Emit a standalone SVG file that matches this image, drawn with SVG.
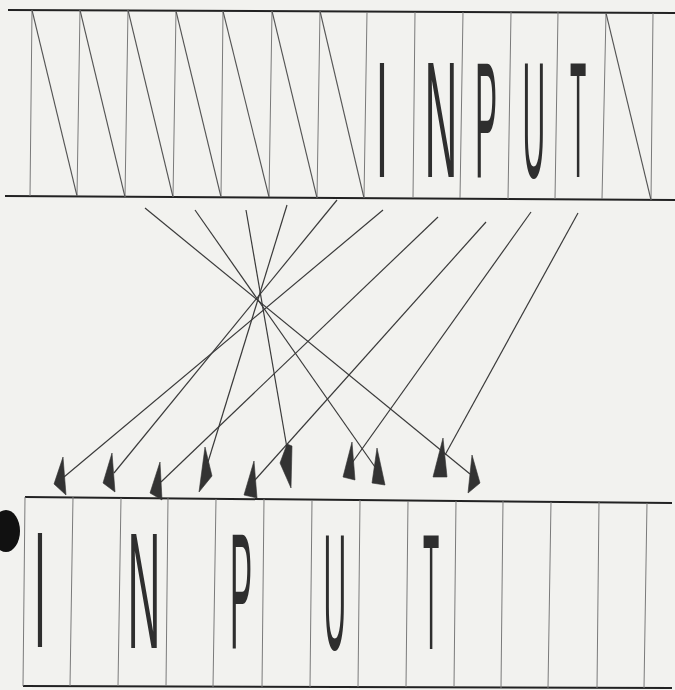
<svg xmlns="http://www.w3.org/2000/svg" width="675" height="690" viewBox="0 0 675 690">
<style>
.bg{fill:#f2f2ef}
.border{stroke:#222;stroke-width:2;fill:none}
.cell{stroke:#7a7a7a;stroke-width:1;fill:none}
.diag{stroke:#555;stroke-width:1.1;fill:none}
.letter{font-family:"Liberation Sans",Arial,sans-serif;font-size:166px;fill:#2e2e2e;text-anchor:middle}
.conn{stroke:#3a3a3a;stroke-width:1.2;fill:none}
.head{fill:#333;stroke:#333;stroke-width:0.6;stroke-linejoin:round}
</style>
<rect class="bg" x="0" y="0" width="675" height="690"/>

<g id="top-strip">
  <line class="border" x1="8" y1="10" x2="675" y2="13"/>
  <line class="border" x1="5" y1="196" x2="675" y2="200"/>
  <g class="cell">
    <line x1="32" y1="10" x2="30" y2="196"/>
    <line x1="80" y1="10" x2="77" y2="196"/>
    <line x1="128" y1="10" x2="125" y2="197"/>
    <line x1="176" y1="11" x2="173" y2="197"/>
    <line x1="223" y1="11" x2="221" y2="197"/>
    <line x1="272" y1="11" x2="269" y2="197"/>
    <line x1="320" y1="11" x2="317" y2="198"/>
    <line x1="367" y1="12" x2="364" y2="198"/>
    <line x1="415" y1="12" x2="413" y2="198"/>
    <line x1="463" y1="12" x2="460" y2="198"/>
    <line x1="511" y1="12" x2="508" y2="199"/>
    <line x1="558" y1="12" x2="555" y2="199"/>
    <line x1="606" y1="13" x2="602" y2="199"/>
    <line x1="653" y1="13" x2="651" y2="200"/>
  </g>
  <g class="diag">
    <line x1="32" y1="10" x2="77" y2="196"/>
    <line x1="80" y1="10" x2="125" y2="197"/>
    <line x1="128" y1="10" x2="173" y2="197"/>
    <line x1="176" y1="11" x2="221" y2="197"/>
    <line x1="223" y1="11" x2="269" y2="197"/>
    <line x1="272" y1="11" x2="317" y2="198"/>
    <line x1="320" y1="11" x2="364" y2="198"/>
    <line x1="606" y1="13" x2="651" y2="200"/>
  </g>
  <text class="letter" transform="translate(382,177) scale(0.27,1)">I</text>
  <text class="letter" transform="translate(441,177) scale(0.275,1)">N</text>
  <text class="letter" transform="translate(486,177) scale(0.2,1)">P</text>
  <text class="letter" transform="translate(534,177) scale(0.19,1)">U</text>
  <text class="letter" transform="translate(578,177) scale(0.16,1)">T</text>
</g>

<g id="bottom-strip">
  <line class="border" x1="25" y1="497" x2="672" y2="503"/>
  <line class="border" x1="23" y1="686" x2="672" y2="688"/>
  <g class="cell">
    <line x1="25" y1="497" x2="23" y2="686"/>
    <line x1="73" y1="497" x2="70" y2="686"/>
    <line x1="121" y1="498" x2="118" y2="686"/>
    <line x1="168" y1="498" x2="166" y2="686"/>
    <line x1="216" y1="499" x2="213" y2="687"/>
    <line x1="264" y1="499" x2="262" y2="687"/>
    <line x1="312" y1="500" x2="310" y2="687"/>
    <line x1="360" y1="500" x2="358" y2="687"/>
    <line x1="408" y1="501" x2="406" y2="687"/>
    <line x1="456" y1="501" x2="454" y2="687"/>
    <line x1="503" y1="501" x2="501" y2="688"/>
    <line x1="551" y1="502" x2="548" y2="688"/>
    <line x1="599" y1="502" x2="597" y2="688"/>
    <line x1="647" y1="503" x2="644" y2="688"/>
  </g>
  <text class="letter" transform="translate(40,647) scale(0.27,1)">I</text>
  <text class="letter" transform="translate(144,648) scale(0.275,1)">N</text>
  <text class="letter" transform="translate(241,648) scale(0.2,1)">P</text>
  <text class="letter" transform="translate(335,649) scale(0.19,1)">U</text>
  <text class="letter" transform="translate(431,649) scale(0.16,1)">T</text>
</g>

<g id="blob">
  <ellipse cx="6" cy="531" rx="14" ry="21" fill="#111"/>
</g>

<g id="connectors">
  <line class="conn" x1="145" y1="208" x2="470" y2="474"/>
  <line class="conn" x1="195" y1="210" x2="375" y2="467"/>
  <line class="conn" x1="246" y1="210" x2="287" y2="448"/>
  <line class="conn" x1="287" y1="205" x2="208" y2="462"/>
  <line class="conn" x1="337" y1="200" x2="114" y2="473"/>
  <line class="conn" x1="383" y1="210" x2="64" y2="477"/>
  <line class="conn" x1="438" y1="217" x2="161" y2="482"/>
  <line class="conn" x1="486" y1="222" x2="255" y2="480"/>
  <line class="conn" x1="531" y1="212" x2="352" y2="463"/>
  <line class="conn" x1="578" y1="213" x2="445" y2="455"/>
  <polygon class="head" points="63,457 54,484 66,495"/>
  <polygon class="head" points="112,453 103,483 115,492"/>
  <polygon class="head" points="160,462 150,493 162,500"/>
  <polygon class="head" points="205,447 212,476 199,492"/>
  <polygon class="head" points="254,461 244,495 257,498"/>
  <polygon class="head" points="287,444 292,446 291,488 280,463"/>
  <polygon class="head" points="352,442 343,477 355,480"/>
  <polygon class="head" points="377,448 372,483 385,485"/>
  <polygon class="head" points="443,438 433,477 447,477"/>
  <polygon class="head" points="472,455 480,483 468,493"/>
</g>
</svg>
